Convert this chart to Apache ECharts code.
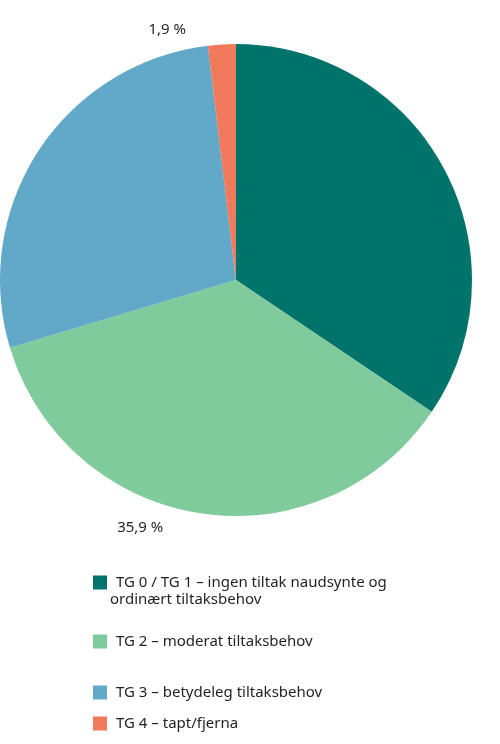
<!DOCTYPE html>
<html><head><meta charset="utf-8">
<script src="https://cdn.jsdelivr.net/npm/echarts@6/dist/echarts.min.js"></script>
<style>html,body{margin:0;padding:0;background:#fff}#c{width:500px;height:744px}</style>
</head><body><div id="c"></div>
<script>
const categories = ["TG 0 / TG 1 – ingen tiltak naudsynte og", "TG 2 – moderat tiltaksbehov", "TG 3 – betydeleg tiltaksbehov", "TG 4 – tapt/fjerna"];
const values = [34.4, 35.9, 27.7, 1.9];
const colors = ["#00736b", "#7fcb9c", "#62a8c8", "#f07a5b"];
const legendTops = [570, 629, 680, 711];
const font = "Noto Sans";
const chart = echarts.init(document.getElementById('c'));
chart.setOption({
  animation: false,
  color: colors,
  legend: categories.map((n, i) => ({
    data: [n], left: 88, top: legendTops[i], itemWidth: 14, itemHeight: 14, icon: 'rect',
    selectedMode: false,
    textStyle: {fontFamily: font, fontSize: 15, color: '#231f20', padding: [0,0,0,4]}
  })),
  graphic: [{type: 'text', left: 110, top: 592, style: {text: 'ordinært tiltaksbehov', font: '15px "Noto Sans"', fill: '#231f20'}}],
  series: [{
    type: 'pie', center: [236, 280], radius: [0, 236], startAngle: 90, clockwise: true,
    data: values.map((v, i) => ({name: categories[i], value: v})),
    label: {show: true, position: 'outside', distance: 12, fontFamily: font, fontSize: 15, color: '#231f20',
      formatter: p => p.value.toFixed(1).replace('.', ',') + ' %'},
    labelLine: {show: false},
    itemStyle: {borderColor: '#fff', borderWidth: 0}
  }]
});
</script></body></html>
